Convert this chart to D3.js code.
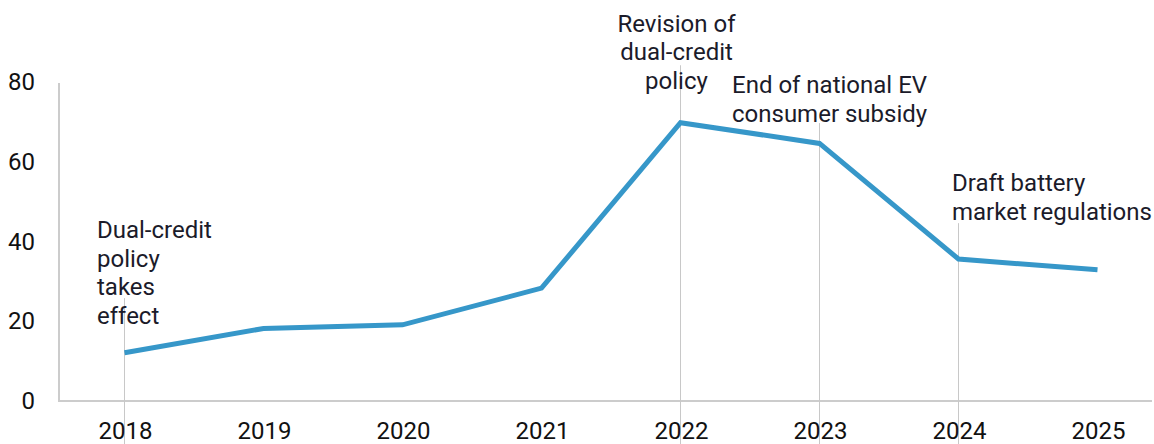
<!DOCTYPE html>
<html>
<head>
<meta charset="utf-8">
<script src="https://cdn.jsdelivr.net/npm/d3@7"></script>
<style>
  html, body { margin: 0; padding: 0; background: #fff; }
  svg { display: block; font-family: Roboto, "Noto Sans", sans-serif; }
</style>
</head>
<body>
<svg id="chart" width="1154" height="444"></svg>
<script>
// Yearly series
const years = ["2018", "2019", "2020", "2021", "2022", "2023", "2024", "2025"];
const values = [12.1, 18.2, 19.1, 28.3, 69.8, 64.6, 35.6, 32.9];
const yTicks = [0, 20, 40, 60, 80];

// Policy milestones: year, text lines, top of guide line (value units)
const noteYears = ["2018", "2022", "2023", "2024"];
const noteLines = [
  ["Dual-credit", "policy", "takes", "effect"],
  ["Revision of", "dual-credit", "policy"],
  ["End of national EV", "consumer subsidy"],
  ["Draft battery", "market regulations"]
];
const noteGuideTop = [25.8, 84.2, 69.7, 44.6];

const svg = d3.select("#chart");
const W = 1154, H = 444;

const x = d3.scalePoint().domain(years).range([124.5, 1097.5]);
const y = d3.scaleLinear().domain([0, 80]).range([401, 82]);

const axisColor = "#cccccc";
const textColor = "#1b1b2a";

// Axis frame
svg.append("line")
  .attr("x1", 59).attr("x2", 59)
  .attr("y1", y(80) + 1).attr("y2", y(0))
  .attr("stroke", axisColor).attr("stroke-width", 2);
svg.append("line")
  .attr("x1", 58).attr("x2", 1152)
  .attr("y1", y(0)).attr("y2", y(0))
  .attr("stroke", axisColor).attr("stroke-width", 2);

// Y tick labels
svg.append("g").selectAll("text").data(yTicks).join("text")
  .attr("x", 35).attr("y", d => y(d))
  .attr("text-anchor", "end").attr("dominant-baseline", "central")
  .attr("font-size", 24).attr("fill", "#111")
  .text(d => d);

// Milestone guide lines
svg.append("g").selectAll("line").data(noteYears).join("line")
  .attr("x1", d => x(d)).attr("x2", d => x(d))
  .attr("y1", (d, i) => y(noteGuideTop[i])).attr("y2", H)
  .attr("stroke", "#c8c8c8").attr("stroke-width", 1);

// X labels
svg.append("g").selectAll("text").data(years).join("text")
  .attr("x", d => x(d) + 1).attr("y", 439)
  .attr("text-anchor", "middle")
  .attr("font-size", 24).attr("fill", "#111")
  .text(d => d);

// Series line
const line = d3.line().x((d, i) => x(years[i])).y(d => y(d));
svg.append("path")
  .datum(values)
  .attr("d", line)
  .attr("fill", "none")
  .attr("stroke", "#3697c9")
  .attr("stroke-width", 5)
  .attr("stroke-linejoin", "miter")
  .attr("stroke-linecap", "butt");

// Milestone text blocks
const notePos = [
  { dx: -27.5, base: 238, anchor: "start" },
  { dx: -4, base: 31.5, anchor: "middle" },
  { dx: -87.5, base: 93, anchor: "start" },
  { dx: -6.5, base: 191, anchor: "start" }
];
const lh = 28.7;
noteYears.forEach((yr, i) => {
  const p = notePos[i];
  const t = svg.append("text")
    .attr("font-size", 24).attr("fill", textColor)
    .attr("text-anchor", p.anchor);
  noteLines[i].forEach((s, j) => {
    t.append("tspan")
      .attr("x", x(yr) + p.dx)
      .attr("y", p.base + j * lh)
      .text(s);
  });
});
</script>
</body>
</html>
